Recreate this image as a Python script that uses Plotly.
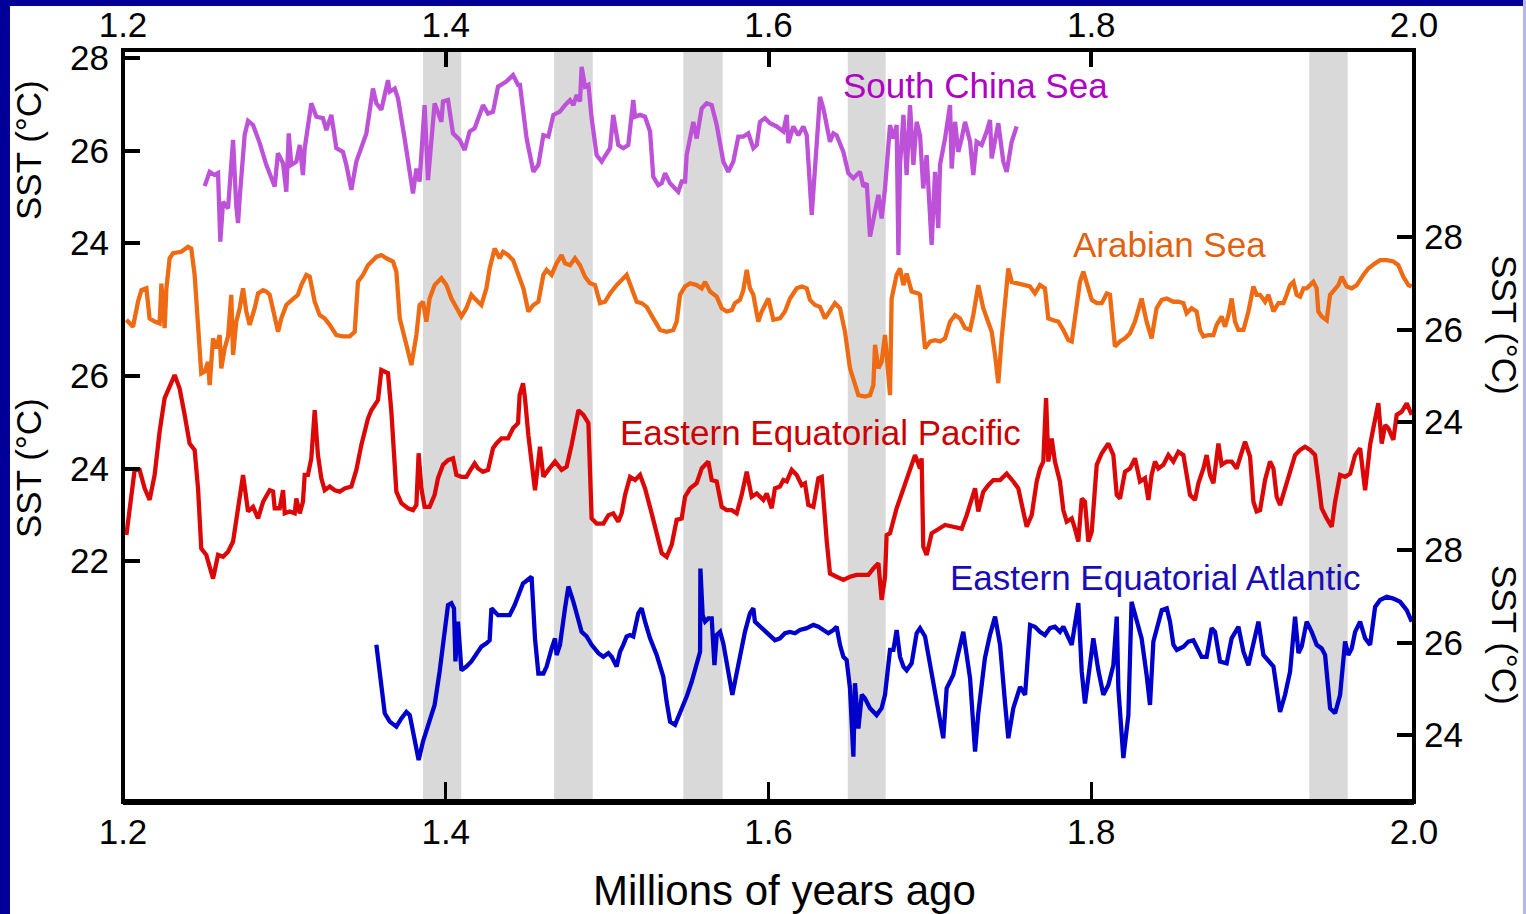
import plotly.graph_objects as go

# ---------------- data ----------------
scs_age = [1.2506,1.2537,1.2568,1.2589,1.2603,1.2620,1.2651,1.2682,1.2702,1.2713,1.2723,1.2754,1.2775,1.2806,1.2847,1.2888,1.2940,1.2960,1.2992,1.3012,1.3027,1.3043,1.3074,1.3095,1.3115,1.3126,1.3167,1.3198,1.3239,1.3260,1.3291,1.3322,1.3363,1.3384,1.3415,1.3446,1.3508,1.3549,1.3570,1.3601,1.3642,1.3653,1.3684,1.3704,1.3745,1.3797,1.3818,1.3838,1.3869,1.3890,1.3931,1.3973,1.3983,1.4014,1.4045,1.4086,1.4117,1.4148,1.4179,1.4231,1.4262,1.4293,1.4324,1.4375,1.4417,1.4448,
           1.4460,1.4501,1.4543,1.4574,1.4605,1.4636,1.4667,1.4708,1.4739,1.4770,1.4791,1.4811,1.4832,1.4842,1.4863,1.4884,1.4904,1.4935,1.4966,1.4997,1.5018,1.5038,1.5069,1.5100,1.5131,1.5162,1.5173,1.5204,1.5235,1.5266,1.5286,1.5317,1.5338,1.5359,1.5390,1.5421,1.5441,1.5462,1.5483,1.5493,1.5514,1.5534,1.5555,1.5586,1.5617,1.5648,1.5679,1.5720,1.5751,1.5782,1.5813,1.5844,1.5875,1.5906,1.5927,1.5947,1.5978,1.6009,1.6051,1.6092,1.6113,1.6123,1.6154,1.6185,1.6216,1.6237,1.6268,1.6288,1.6309,1.6319,1.6340,1.6361,1.6381,1.6402,1.6422,1.6464,1.6495,1.6526,1.6567,1.6588,1.6609,1.6629,1.6660,1.6681,1.6701,1.6722,1.6753,1.6774,1.6794,1.6805,1.6815,1.6836,1.6856,1.6877,1.6898,1.6918,
           1.6939,1.6959,1.6980,1.7011,1.7032,1.7052,1.7063,1.7094,1.7125,1.7135,1.7156,1.7176,1.7197,1.7218,1.7249,1.7269,1.7290,1.7321,1.7352,1.7373,1.7383,1.7404,1.7424,1.7455,1.7476,1.7507,1.7538]
scs_sst = [25.23,25.54,25.47,25.51,24.03,24.89,24.75,26.23,24.79,24.43,24.97,26.34,26.64,26.55,26.16,25.69,25.22,25.94,25.72,25.11,26.37,25.69,25.76,26.12,25.47,26.05,27.02,26.73,26.70,26.44,26.77,26.05,25.97,25.69,25.15,25.76,26.37,27.34,27.02,26.88,27.52,27.27,27.34,27.13,26.26,25.07,25.61,25.33,26.98,25.36,27.02,26.62,27.06,27.09,26.37,26.23,26.01,26.41,26.48,26.98,26.80,26.84,27.38,27.49,27.63,27.42,
           27.42,26.26,25.54,25.69,26.33,26.30,26.77,26.84,26.98,27.09,26.98,27.20,27.06,27.81,27.38,27.42,26.70,25.90,25.76,25.94,26.05,26.77,26.12,26.05,26.12,27.09,26.73,26.77,26.73,26.41,25.43,25.25,25.29,25.51,25.29,25.18,25.11,25.33,25.33,25.90,26.30,26.62,26.26,26.91,27.02,26.98,26.55,25.76,25.54,25.76,26.30,26.30,26.37,26.05,26.12,26.62,26.70,26.59,26.52,26.41,26.77,26.16,26.52,26.33,26.52,26.33,24.61,25.76,26.62,27.16,26.91,26.52,26.19,26.37,26.33,25.97,25.51,25.40,25.54,25.22,25.29,24.14,24.64,25.04,24.53,25.18,26.55,26.26,26.55,23.74,25.69,26.77,25.47,26.98,25.69,26.62,
           26.33,25.18,25.90,23.96,25.54,24.32,25.69,26.26,26.98,25.61,26.62,25.97,26.26,26.62,26.19,25.47,26.19,26.12,26.41,26.66,25.83,26.26,26.59,25.76,25.54,26.19,26.52]

ara_age = [1.2021,1.2062,1.2093,1.2114,1.2145,1.2165,1.2196,1.2227,1.2238,1.2258,1.2269,1.2289,1.2310,1.2361,1.2403,1.2423,1.2444,1.2465,1.2485,1.2506,1.2527,1.2537,1.2558,1.2578,1.2599,1.2609,1.2630,1.2651,1.2671,1.2682,1.2702,1.2723,1.2744,1.2764,1.2785,1.2816,1.2837,1.2868,1.2888,1.2909,1.2930,1.2961,1.2981,1.3012,1.3033,1.3054,1.3084,1.3105,1.3136,1.3157,1.3188,1.3219,1.3250,1.3281,1.3322,1.3363,1.3405,1.3436,1.3456,1.3487,1.3518,1.3570,1.3601,1.3632,1.3673,1.3694,1.3715,1.3756,1.3787,1.3818,1.3838,1.3859,1.3880,1.3900,1.3931,1.3973,1.4004,1.4035,1.4066,1.4097,1.4128,1.4159,1.4179,1.4221,1.4252,1.4272,1.4303,1.4334,1.4355,1.4386,1.4417,1.4448,
           1.4481,1.4512,1.4543,1.4574,1.4605,1.4625,1.4656,1.4687,1.4718,1.4739,1.4770,1.4801,1.4832,1.4863,1.4894,1.4925,1.4956,1.4987,1.5018,1.5059,1.5090,1.5121,1.5152,1.5183,1.5214,1.5245,1.5286,1.5328,1.5369,1.5410,1.5431,1.5452,1.5483,1.5514,1.5555,1.5586,1.5607,1.5638,1.5679,1.5710,1.5741,1.5772,1.5792,1.5823,1.5844,1.5865,1.5885,1.5906,1.5927,1.5937,1.5958,1.5978,1.5999,1.6030,1.6071,1.6102,1.6133,1.6175,1.6206,1.6237,1.6257,1.6288,1.6319,1.6350,1.6381,1.6412,1.6443,1.6474,1.6505,1.6536,1.6557,1.6598,1.6629,1.6650,1.6660,1.6681,1.6701,1.6722,1.6743,1.6753,1.6763,1.6794,1.6815,1.6836,1.6856,1.6887,1.6928,
           1.6939,1.6970,1.7001,1.7032,1.7063,1.7094,1.7125,1.7156,1.7187,1.7218,1.7249,1.7269,1.7300,1.7331,1.7362,1.7383,1.7404,1.7424,1.7445,1.7466,1.7486,1.7507,1.7538,1.7579,1.7620,1.7651,1.7682,1.7713,1.7734,1.7765,1.7796,1.7827,1.7858,1.7879,1.7910,1.7930,1.7951,1.7982,1.8003,1.8034,1.8065,1.8096,1.8116,1.8147,1.8178,1.8209,1.8240,1.8271,1.8292,1.8312,1.8343,1.8374,1.8405,1.8437,1.8468,1.8509,1.8540,1.8571,1.8591,1.8622,1.8653,1.8674,1.8695,1.8726,1.8757,1.8777,1.8808,1.8829,1.8850,1.8870,1.8891,1.8912,1.8943,1.8974,1.9005,1.9025,1.9046,1.9077,1.9098,1.9129,1.9160,1.9191,1.9211,1.9232,1.9253,1.9273,1.9294,1.9315,1.9335,1.9356,1.9376,1.9397,1.9407,1.9428,1.9459,1.9480,1.9500,1.9531,1.9552,1.9583,1.9614,1.9645,1.9686,1.9717,1.9759,1.9790,1.9831,1.9872,1.9903,1.9934,1.9965,1.9986]
ara_sst = [26.21,26.06,26.60,26.85,26.89,26.24,26.17,26.13,26.99,26.03,26.89,27.54,27.65,27.68,27.79,27.75,27.18,26.03,25.05,25.09,25.30,24.80,25.81,25.59,25.88,25.16,25.59,25.85,26.75,25.45,26.17,26.46,26.89,26.39,26.10,26.46,26.78,26.85,26.82,26.75,26.46,25.95,26.24,26.53,26.60,26.67,26.75,26.96,27.18,27.14,26.60,26.31,26.24,26.10,25.88,25.85,25.85,25.95,27.03,27.18,27.39,27.57,27.61,27.54,27.47,27.25,26.24,25.67,25.23,25.88,26.53,26.60,26.17,26.67,26.96,27.11,26.96,26.67,26.46,26.28,26.46,26.75,26.67,26.53,26.89,27.32,27.75,27.54,27.68,27.61,27.50,27.18,
           26.89,26.39,26.53,26.60,27.18,27.29,27.18,27.43,27.61,27.43,27.39,27.54,27.39,27.14,27.00,26.96,26.57,26.60,26.78,26.96,27.07,27.18,26.89,26.60,26.57,26.49,26.24,25.99,25.95,25.99,26.17,26.75,26.93,27.00,26.96,26.89,27.03,26.82,26.71,26.46,26.39,26.42,26.57,26.64,26.85,27.29,26.89,26.75,26.35,26.17,26.39,26.53,26.67,26.21,26.24,26.39,26.67,26.89,26.93,26.89,26.64,26.53,26.49,26.24,26.39,26.57,26.46,25.95,25.16,24.80,24.58,24.55,24.58,24.80,25.67,25.16,25.30,25.88,25.09,24.58,26.67,27.18,27.32,26.96,27.21,26.82,26.78,
           26.75,25.59,25.74,25.77,25.74,25.81,26.17,26.31,26.24,26.03,25.99,26.31,26.96,26.46,26.17,25.95,25.45,24.84,25.81,26.67,27.32,27.03,27.00,26.96,26.93,26.78,26.96,26.89,26.24,26.20,26.17,25.99,25.77,25.74,26.46,27.03,27.25,26.89,26.64,26.57,26.57,26.78,26.75,25.63,25.74,25.81,25.92,26.17,26.46,26.67,26.17,25.81,26.46,26.64,26.67,26.60,26.60,26.57,26.35,26.46,26.39,25.99,25.85,25.88,25.88,26.10,26.28,26.06,26.31,26.67,26.17,25.99,25.99,26.39,26.93,26.75,26.75,26.60,26.75,26.39,26.57,26.57,26.75,26.96,27.03,26.75,26.71,26.89,26.89,26.96,27.03,26.89,26.39,26.28,26.20,26.75,26.82,26.96,27.14,26.93,26.89,26.96,27.18,27.32,27.43,27.50,27.50,27.47,27.39,27.14,26.96,26.93]

eep_age = [1.2021,1.2041,1.2072,1.2103,1.2134,1.2165,1.2196,1.2227,1.2258,1.2320,1.2351,1.2382,1.2413,1.2444,1.2465,1.2485,1.2516,1.2558,1.2589,1.2620,1.2651,1.2682,1.2713,1.2744,1.2775,1.2806,1.2837,1.2868,1.2909,1.2930,1.2940,1.2971,1.2992,1.3002,1.3033,1.3064,1.3074,1.3095,1.3115,1.3126,1.3146,1.3167,1.3188,1.3208,1.3229,1.3250,1.3281,1.3312,1.3343,1.3374,1.3415,1.3446,1.3477,1.3518,1.3539,1.3580,1.3601,1.3642,1.3663,1.3694,1.3725,1.3766,1.3797,1.3818,1.3832,1.3849,1.3869,1.3900,1.3931,1.3952,1.3983,1.4014,1.4045,1.4066,1.4097,1.4128,1.4159,1.4179,1.4200,1.4231,1.4262,1.4293,1.4314,1.4345,1.4386,1.4417,1.4448,1.4458,1.4479,
           1.4491,1.4512,1.4553,1.4584,1.4605,1.4636,1.4677,1.4718,1.4749,1.4780,1.4822,1.4853,1.4884,1.4904,1.4935,1.4977,1.5008,1.5038,1.5069,1.5090,1.5111,1.5142,1.5173,1.5204,1.5235,1.5276,1.5307,1.5338,1.5369,1.5400,1.5431,1.5462,1.5483,1.5514,1.5555,1.5586,1.5627,1.5648,1.5679,1.5710,1.5741,1.5772,1.5803,1.5834,1.5865,1.5896,1.5927,1.5968,1.5989,1.6020,1.6040,1.6071,1.6092,1.6113,1.6144,1.6175,1.6206,1.6226,1.6247,1.6278,1.6309,1.6330,1.6361,1.6381,1.6422,1.6464,1.6505,1.6546,1.6588,1.6619,1.6650,1.6681,1.6701,1.6722,1.6732,1.6753,1.6794,1.6836,1.6877,1.6908,1.6939,
           1.6949,1.6959,1.6980,1.7011,1.7052,1.7094,1.7145,1.7197,1.7228,1.7259,1.7280,1.7300,1.7331,1.7362,1.7393,1.7435,1.7476,1.7517,1.7548,1.7579,1.7600,1.7631,1.7662,1.7683,1.7703,1.7720,1.7734,1.7755,1.7775,1.7806,1.7827,1.7848,1.7879,1.7899,1.7920,1.7941,1.7961,1.7982,1.8003,1.8023,1.8034,1.8065,1.8106,1.8137,1.8158,1.8178,1.8209,1.8240,1.8271,1.8302,1.8333,1.8354,1.8374,1.8395,1.8416,1.8447,1.8478,1.8509,1.8540,1.8571,1.8591,1.8612,1.8643,1.8664,1.8695,1.8715,1.8736,1.8757,1.8788,1.8808,1.8839,1.8870,1.8901,1.8932,1.8953,1.8984,1.9005,1.9025,1.9046,1.9077,1.9108,1.9129,1.9149,1.9170,1.9201,1.9232,1.9263,1.9294,1.9325,1.9356,1.9387,1.9407,1.9428,1.9459,1.9490,1.9511,1.9542,1.9573,1.9604,1.9635,1.9666,1.9697,1.9728,1.9748,1.9779,1.9800,1.9821,1.9841,1.9872,1.9893,1.9924,1.9955,1.9986]
eep_sst = [22.56,23.07,23.97,23.97,23.57,23.32,23.86,24.80,25.52,26.02,25.73,25.16,24.54,24.40,23.57,22.27,22.13,21.62,22.13,22.09,22.20,22.42,23.07,23.86,23.07,23.17,22.92,23.28,23.53,23.50,23.14,23.14,23.53,23.03,23.07,23.03,23.35,23.03,23.28,23.86,23.86,24.22,25.26,24.29,23.79,23.53,23.61,23.53,23.50,23.57,23.61,23.97,24.51,25.08,25.26,25.48,26.13,26.06,25.23,23.50,23.25,23.14,23.10,23.21,24.33,23.57,23.17,23.17,23.43,23.79,24.08,24.18,24.22,23.86,23.82,23.82,24.00,24.11,24.00,23.93,23.97,24.44,24.54,24.65,24.65,24.87,24.98,25.59,25.84,
           25.52,24.72,23.53,24.47,23.82,23.97,24.15,23.97,24.04,24.51,25.26,25.16,24.98,22.92,22.81,22.81,22.99,23.03,22.85,23.03,23.43,23.82,23.75,23.86,23.57,23.03,22.60,22.17,22.09,22.35,22.89,22.92,23.39,23.57,23.68,24.00,24.15,23.75,23.72,23.17,23.10,23.10,23.03,23.43,23.93,23.39,23.46,23.32,23.46,23.14,23.57,23.61,23.75,23.72,23.97,23.86,23.64,23.68,23.21,23.17,23.79,23.82,22.42,21.73,21.66,21.59,21.66,21.70,21.70,21.70,21.84,21.95,21.16,21.66,22.56,22.60,23.14,23.57,23.93,24.29,24.00,
           24.22,22.31,22.13,22.60,22.70,22.78,22.74,22.70,22.99,23.35,23.57,23.07,23.50,23.64,23.75,23.75,23.89,23.72,23.57,23.07,22.74,22.99,23.72,24.00,24.15,25.52,24.15,24.65,24.15,23.72,23.10,22.85,22.92,22.70,22.42,23.35,23.28,22.42,22.63,23.57,24.08,24.33,24.54,24.29,23.43,23.35,23.93,24.00,24.22,23.72,23.79,23.32,23.86,24.15,24.00,24.08,24.29,24.15,24.36,24.29,23.86,23.43,23.32,23.68,24.00,24.29,23.86,23.68,24.54,24.08,24.15,24.15,24.00,24.36,24.58,24.26,23.28,23.07,23.10,23.75,24.15,24.00,23.39,23.21,23.57,23.97,24.29,24.40,24.47,24.40,24.29,23.75,23.14,22.92,22.74,23.28,23.86,23.82,23.89,24.29,24.44,23.53,24.51,24.87,25.41,24.54,24.94,24.87,24.62,25.16,25.23,25.41,25.16]

atl_age = [1.3570,1.3591,1.3622,1.3653,1.3694,1.3725,1.3756,1.3777,1.3807,1.3832,1.3859,1.3890,1.3931,1.3962,1.3993,1.4014,1.4035,1.4051,1.4060,1.4076,1.4097,1.4128,1.4159,1.4190,1.4221,1.4252,1.4272,1.4283,1.4303,1.4324,1.4355,1.4396,1.4427,1.4458,1.4479,
           1.4491,1.4532,1.4553,1.4574,1.4605,1.4625,1.4656,1.4677,1.4687,1.4708,1.4739,1.4760,1.4791,1.4822,1.4842,1.4873,1.4904,1.4946,1.4977,1.5008,1.5028,1.5059,1.5080,1.5100,1.5121,1.5142,1.5162,1.5193,1.5214,1.5235,1.5266,1.5307,1.5348,1.5369,1.5390,1.5421,1.5452,1.5493,1.5524,1.5555,1.5576,1.5578,1.5592,1.5607,1.5627,1.5648,1.5665,1.5679,1.5700,1.5720,1.5741,1.5761,1.5776,1.5792,1.5823,1.5854,1.5885,1.5906,1.5916,1.5937,1.5968,1.5999,1.6040,1.6071,1.6102,1.6133,1.6164,1.6195,1.6237,1.6278,1.6309,1.6340,1.6371,1.6402,1.6422,1.6443,1.6464,1.6484,1.6505,1.6526,1.6536,1.6557,1.6578,1.6598,1.6629,1.6670,1.6701,1.6722,1.6732,1.6753,1.6774,1.6794,1.6815,1.6836,1.6856,1.6887,1.6918,1.6939,
           1.6970,1.7001,1.7042,1.7083,1.7104,1.7145,1.7207,1.7249,1.7280,1.7300,1.7341,1.7372,1.7404,1.7435,1.7466,1.7486,1.7517,1.7559,1.7590,1.7621,1.7651,1.7682,1.7713,1.7744,1.7775,1.7806,1.7827,1.7848,1.7879,1.7920,1.7941,1.7961,1.7992,1.8013,1.8044,1.8075,1.8106,1.8137,1.8158,1.8168,1.8199,1.8230,1.8250,1.8281,1.8312,1.8343,1.8364,1.8385,1.8416,1.8437,1.8468,1.8488,1.8509,1.8530,1.8571,1.8602,1.8633,1.8653,1.8684,1.8715,1.8746,1.8767,1.8798,1.8839,1.8870,1.8912,1.8943,1.8974,1.9005,1.9036,1.9067,1.9098,1.9129,1.9170,1.9201,1.9232,1.9263,1.9284,1.9304,1.9335,1.9366,1.9397,1.9428,1.9449,1.9480,1.9511,1.9542,1.9573,1.9593,1.9614,1.9635,1.9666,1.9697,1.9728,1.9759,1.9790,1.9831,1.9872,1.9914,1.9955,1.9986]
atl_sst = [25.95,25.37,24.47,24.29,24.18,24.36,24.50,24.43,23.93,23.46,23.86,24.22,24.65,25.37,26.20,26.81,26.85,26.74,25.59,26.45,25.40,25.48,25.59,25.77,25.91,25.98,26.05,26.74,26.67,26.59,26.59,26.59,26.81,27.10,27.28,
           27.31,27.42,26.09,25.33,25.33,25.48,25.87,26.09,25.73,25.95,26.74,27.21,26.88,26.52,26.23,26.13,25.95,25.77,25.69,25.77,25.69,25.48,25.80,25.95,26.13,26.16,26.13,26.63,26.74,26.45,26.09,25.73,25.26,24.72,24.29,24.22,24.47,24.83,25.15,25.59,25.80,27.60,26.59,26.45,26.52,26.52,25.51,26.16,26.23,25.98,25.59,25.15,24.87,25.15,25.73,26.23,26.63,26.74,26.45,26.38,26.27,26.16,26.05,26.09,26.20,26.23,26.20,26.27,26.31,26.38,26.34,26.27,26.20,26.27,26.34,25.95,25.69,25.62,25.01,23.53,25.12,24.14,24.87,24.79,24.58,24.43,24.58,24.87,25.15,25.84,25.84,26.27,25.69,25.48,25.40,25.55,26.20,26.31,
           26.13,25.51,24.72,23.93,25.01,25.30,26.23,25.23,23.64,24.47,25.66,26.16,26.56,25.95,24.68,23.93,24.58,25.04,24.87,26.38,26.34,26.23,26.16,26.31,26.34,26.23,26.34,26.20,25.95,26.85,25.37,24.68,25.59,26.09,25.40,24.87,25.08,25.51,26.56,25.01,23.50,24.43,26.88,26.45,26.09,25.30,24.65,26.02,26.45,26.70,26.74,26.45,25.95,25.84,25.91,26.02,26.05,25.91,25.69,25.69,26.31,26.23,25.59,25.55,26.09,26.34,25.80,25.51,25.95,26.45,25.73,25.59,25.48,24.50,24.87,25.37,26.56,25.77,25.91,26.45,26.23,25.95,25.87,25.73,24.58,24.47,24.87,26.02,25.73,25.87,26.23,26.45,26.09,25.95,26.77,26.92,26.99,26.95,26.88,26.70,26.45]

# shaded intervals (Myr)
band_start = [1.3859, 1.4671, 1.5472, 1.6491, 1.9351]
band_end = [1.4096, 1.4911, 1.5716, 1.6726, 1.9589]

x_ticks = [1.2, 1.4, 1.6, 1.8, 2.0]
x_ticktext = ["1.2", "1.4", "1.6", "1.8", "2.0"]
scs_ticks = [24, 26, 28]
eep_ticks = [22, 24, 26]
ara_ticks = [24, 26, 28]
atl_ticks = [24, 26, 28]

# ---------------- layout geometry ----------------
W, H = 1526, 914
L, R, T, B = 123, 112, 50, 112
PW, PH = W - L - R, H - T - B
PX_PER_DEG = 46.25


def pxx(p):
    return (p - L) / PW


def pxy(p):
    return (H - B - p) / PH


def yrange(val, pix):
    top = val + (pix - T) / PX_PER_DEG
    bot = val - (H - B - pix) / PX_PER_DEG
    return [bot, top]


FONT = "Liberation Sans, Arial, Helvetica, sans-serif"
C_SCS, C_ARA, C_EEP, C_ATL = "#BD52D9", "#EE6A13", "#DC0808", "#0000CC"
LW = 4.3

fig = go.Figure()
fig.add_trace(go.Scatter(x=scs_age, y=scs_sst, mode="lines", line=dict(color=C_SCS, width=LW), yaxis="y", xaxis="x"))
fig.add_trace(go.Scatter(x=eep_age, y=eep_sst, mode="lines", line=dict(color=C_EEP, width=LW), yaxis="y2", xaxis="x"))
fig.add_trace(go.Scatter(x=ara_age, y=ara_sst, mode="lines", line=dict(color=C_ARA, width=LW), yaxis="y3", xaxis="x"))
fig.add_trace(go.Scatter(x=atl_age, y=atl_sst, mode="lines", line=dict(color=C_ATL, width=LW), yaxis="y4", xaxis="x"))
fig.add_trace(go.Scatter(x=[], y=[], xaxis="x2", yaxis="y", showlegend=False))

tickfont = dict(family=FONT, size=35, color="black")
yax_common = dict(showgrid=False, zeroline=False, showline=False, ticks="inside",
                  ticklen=17, tickwidth=4, tickcolor="black", tickfont=tickfont,
                  fixedrange=True, automargin=False)

shapes = []
for s, e in zip(band_start, band_end):
    shapes.append(dict(type="rect", xref="x", yref="paper", x0=s, x1=e, y0=0, y1=1,
                       fillcolor="#D9D9D9", line=dict(width=0), layer="below"))
# frame
shapes.append(dict(type="rect", xref="paper", yref="paper", x0=0, x1=1, y0=0, y1=1,
                   line=dict(color="black", width=4), fillcolor="rgba(0,0,0,0)"))
shapes.append(dict(type="line", xref="paper", yref="paper", x0=0, x1=1, y0=0, y1=0,
                   line=dict(color="black", width=6)))
# slide border
shapes.append(dict(type="rect", xref="paper", yref="paper", x0=pxx(0), x1=pxx(10), y0=pxy(914), y1=pxy(0),
                   fillcolor="#000099", line=dict(width=0)))
shapes.append(dict(type="rect", xref="paper", yref="paper", x0=pxx(0), x1=pxx(1526), y0=pxy(6), y1=pxy(0),
                   fillcolor="#000099", line=dict(width=0)))
shapes.append(dict(type="rect", xref="paper", yref="paper", x0=pxx(1523), x1=pxx(1526), y0=pxy(914), y1=pxy(0),
                   fillcolor="#B8B8E8", line=dict(width=0)))


def ann(text, xp, yp, size, color, angle=0):
    return dict(text=text, x=pxx(xp), y=pxy(yp), xref="paper", yref="paper", showarrow=False,
                xanchor="center", yanchor="middle", textangle=angle,
                font=dict(family=FONT, size=size, color=color))


annotations = [
    ann("South China Sea", 976, 86, 35, "#B000C4"),
    ann("Arabian Sea", 1169, 244, 35, "#E0620E"),
    ann("Eastern Equatorial Pacific", 820, 432, 35, "#CC0000"),
    ann("Eastern Equatorial Atlantic", 1155, 577, 35, "#1A0DB8"),
    ann("SST (°C)", 28, 150, 35, "black", -90),
    ann("SST (°C)", 28, 468, 35, "black", -90),
    ann("SST (°C)", 1505, 325, 35, "black", 90),
    ann("SST (°C)", 1505, 635, 35, "black", 90),
    ann("Millions of years ago", 784, 890, 42, "black"),
]

fig.update_layout(
    width=W, height=H, autosize=False,
    margin=dict(l=L, r=R, t=T, b=B, pad=0, autoexpand=False),
    paper_bgcolor="white", plot_bgcolor="white",
    showlegend=False,
    xaxis=dict(range=[1.2, 2.0], tickvals=x_ticks, ticktext=x_ticktext, ticks="inside",
               ticklen=20, tickwidth=3, tickcolor="black", showgrid=False, zeroline=False,
               showline=False, tickfont=tickfont, ticklabelstandoff=6, fixedrange=True,
               automargin=False),
    xaxis2=dict(range=[1.2, 2.0], overlaying="x", side="top", tickvals=x_ticks, ticktext=x_ticktext,
                ticks="inside", ticklen=17, tickwidth=4, tickcolor="black", showgrid=False,
                zeroline=False, showline=False, tickfont=tickfont, ticklabelstandoff=5,
                fixedrange=True, automargin=False),
    yaxis=dict(range=yrange(28, 58), tickvals=scs_ticks, side="left", ticklabelstandoff=13, **yax_common),
    yaxis2=dict(range=yrange(26, 376), tickvals=eep_ticks, side="left", overlaying="y",
                ticklabelstandoff=13, **yax_common),
    yaxis3=dict(range=yrange(28, 237), tickvals=ara_ticks, side="right", overlaying="y",
                ticklabelstandoff=9, **yax_common),
    yaxis4=dict(range=yrange(28, 550), tickvals=atl_ticks, side="right", overlaying="y",
                ticklabelstandoff=9, **yax_common),
    shapes=shapes,
    annotations=annotations,
)

fig.write_html("out.html")
